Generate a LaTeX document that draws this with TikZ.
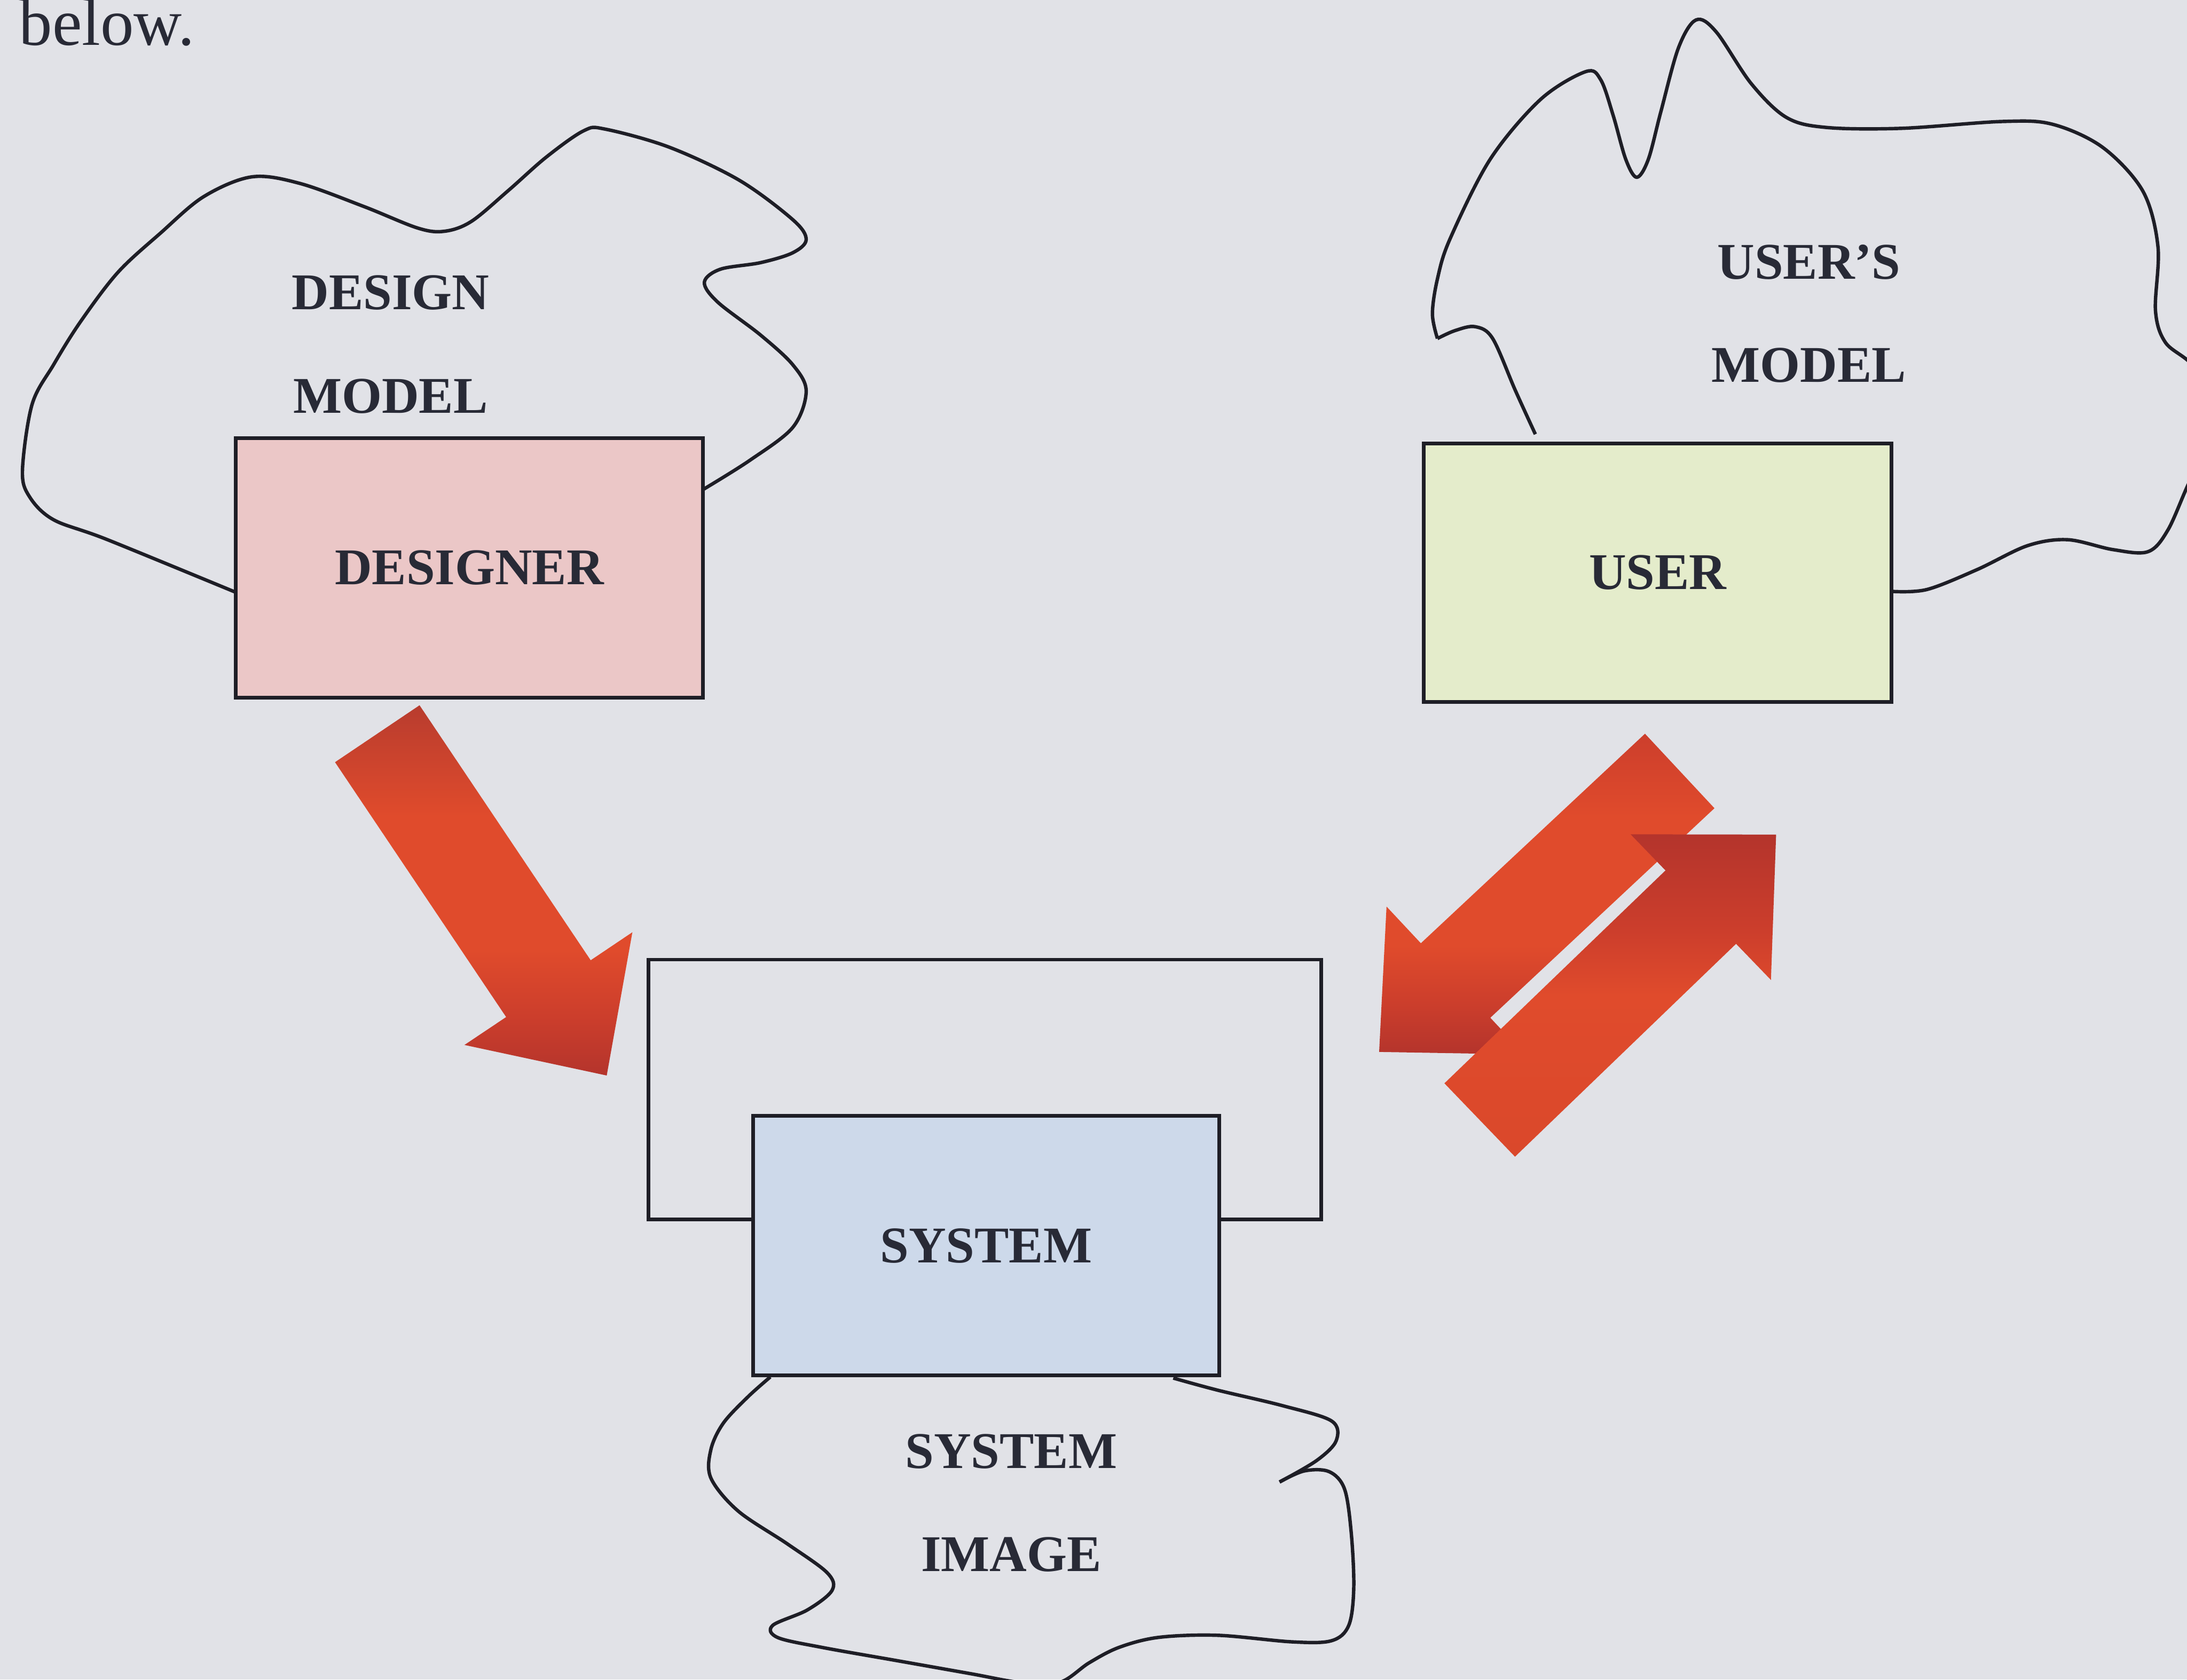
\documentclass[tikz,border=0pt]{standalone}
\usepackage{fontspec}
\setmainfont{Liberation Serif}

\definecolor{pagebg}{RGB}{225,226,231}
\definecolor{inkline}{RGB}{30,30,38}
\definecolor{labelink}{RGB}{40,42,54}
\definecolor{designerfill}{RGB}{235,199,199}
\definecolor{userfill}{RGB}{228,236,203}
\definecolor{systemfill}{RGB}{205,217,234}
\definecolor{arrowbright}{RGB}{224,75,44}
\definecolor{arrowsoft}{RGB}{218,72,43}
\definecolor{arrowwarm}{RGB}{204,62,44}
\definecolor{arrowtail}{RGB}{184,60,46}
\definecolor{arrowdeep}{RGB}{180,52,44}

% vertical colour ramps for the three block arrows (bottom = 25bp, top = 75bp)
\pgfdeclareverticalshading{designershade}{100bp}{%
  color(0bp)=(arrowdeep); color(25bp)=(arrowdeep); color(33bp)=(arrowwarm);
  color(42bp)=(arrowbright); color(60bp)=(arrowbright); color(75bp)=(arrowtail);
  color(100bp)=(arrowtail)}
\pgfdeclareverticalshading{downshade}{100bp}{%
  color(0bp)=(arrowdeep); color(25bp)=(arrowdeep); color(33bp)=(arrowwarm);
  color(42bp)=(arrowbright); color(62bp)=(arrowbright); color(75bp)=(arrowwarm);
  color(100bp)=(arrowwarm)}
\pgfdeclareverticalshading{upshade}{100bp}{%
  color(0bp)=(arrowsoft); color(25bp)=(arrowsoft); color(50bp)=(arrowbright);
  color(60bp)=(arrowwarm); color(75bp)=(arrowdeep); color(100bp)=(arrowdeep)}

\newcommand\labelfont{\fontsize{10.5}{12}\selectfont\bfseries}

\tikzset{
  box/.style={draw=inkline, line width=0.75pt, minimum width=3.35cm,
    minimum height=1.86cm, inner sep=0pt, text=labelink, font=\labelfont},
  frame/.style={draw=inkline, line width=0.75pt, minimum width=4.82cm,
    minimum height=1.86cm, inner sep=0pt},
  cloudline/.style={draw=inkline, line width=0.7pt, line join=round},
  modeltext/.style={anchor=base, inner sep=0pt, text=labelink, font=\labelfont},
  blockarrow/.style={draw=none},
}

\begin{document}
\begin{tikzpicture}[x=0.01cm, y=-0.01cm]
  % page
  \useasboundingbox (0,0) rectangle (1568,1204);
  \fill[pagebg] (0,0) rectangle (1568,1204);
  \clip (0,0) rectangle (1568,1204);

  % running text above the figure
  \node[anchor=base west, inner sep=0pt, text=labelink,
        font=\fontsize{13.6}{16}\selectfont] (below) at (13,32.4) {below.};

  % design model outline
  \draw[cloudline] plot[smooth, tension=0.55] coordinates {
    (169,424.6) (76.8,386.8) (38.4,372.6) (21.1,356) (16.1,337.1) (23,289.9)
    (38.4,261.5) (57.6,230.8) (84.5,195.3) (115.2,167) (146,141) (180.5,126.8)
    (215,131.5) (261,148.1) (299.5,163.5) (318.7,165.8) (338,158.7) (364.8,136.3)
    (391.7,112.6) (418.6,93.7) (434,92.6) (480,105.6) (530,129.2) (568.4,157.5)
    (578,171.7) (568.4,181.2) (545.3,188.3) (516.5,193) (505,202.4) (514.6,216.6)
    (545.3,240.2) (568.4,261.5) (578,280.4) (568.4,306.4) (537.6,330) (504,351)};

  % user's model outline, in two strokes that meet at the sharp corner
  \draw[cloudline] plot[smooth, tension=0.55] coordinates {
    (1100.8,311.3) (1086.4,279.8) (1070.2,242.7) (1057.6,234.2) (1043.2,237)
    (1030.6,242.7)};
  \draw[cloudline] plot[smooth, tension=0.55] coordinates {
    (1030.6,242.7) (1027,225) (1030.6,199.9) (1039.6,171.3) (1068.4,114.2)
    (1104.4,71.4) (1136.8,51.4) (1147.6,57.1) (1156.6,82.8) (1165.6,114.2)
    (1173.5,127.1) (1181.8,114.2) (1190.8,80) (1203.4,34.3) (1216,14.3)
    (1230.4,22.8) (1255.6,60) (1280.8,84.2) (1309.6,91.4) (1363.6,92)
    (1435.6,87.1) (1471.6,89.1) (1507.6,105.7) (1536.4,137.1) (1547.2,177)
    (1545.4,222.7) (1552.6,245.6) (1572,262) (1586,290) (1584,322) (1570,345)
    (1554.4,379.8) (1540,395.5) (1514.8,394) (1482.4,386.9) (1453.6,391.2)
    (1417.6,408.3) (1381.6,422.6) (1357,424)};

  % system image outline, in two strokes that meet at the notch
  \draw[cloudline] plot[smooth, tension=0.55] coordinates {
    (552.3,987.1) (536.3,1001.3) (518.6,1020.2) (509.7,1039.1) (509.7,1059.6)
    (529.2,1083.2) (564.7,1106.9) (593,1127.4) (596.6,1140) (578.9,1154.1)
    (554,1165.2) (557.6,1173.9) (589.5,1181) (642.7,1190.4) (695.8,1199.8)
    (731.3,1206.1) (759.6,1206.1) (780.9,1192) (802.2,1181) (830.6,1173.8)
    (873.1,1172.3) (926.3,1177) (954.6,1176.2) (967,1165.2) (970.6,1138.4)
    (968.8,1099) (964,1067.5) (953,1055) (935,1054.5) (917.4,1062.4)};
  \draw[cloudline] plot[smooth, tension=0.55] coordinates {
    (917.4,1062.4) (944,1047) (958,1032.8) (954.6,1018.6)
    (919.2,1007.6) (873.1,996.6) (841.2,987.9)};

  % boxes
  \node[box, fill=designerfill] (designer) at (336.5,407) {DESIGNER};
  \node[box, fill=userfill, minimum height=1.85cm] (user) at (1188.5,410.5) {USER};
  \node[frame] (sysframe) at (706,781) {};
  \node[box, fill=systemfill, minimum width=3.34cm] (system) at (707,893) {SYSTEM};

  % model labels
  \node[modeltext] (designlbl) at (280,222) {DESIGN};
  \node[modeltext] (designmodel) at (280,296) {MODEL};
  \node[modeltext] (userslbl) at (1297,200) {USER’S};
  \node[modeltext] (usersmodel) at (1297,274) {MODEL};
  \node[modeltext] (imagesys) at (725,1052.5) {SYSTEM};
  \node[modeltext] (imagelbl) at (725,1126.6) {IMAGE};

  % designer -> system
  \shade[blockarrow, shading=designershade]
    (300.8,505.6) -- (423.5,688.4) -- (453.4,668.3) -- (435.0,771.0)
    -- (333.0,749.1) -- (362.9,729.1) -- (240.2,546.4) -- cycle;

  % user -> system
  \shade[blockarrow, shading=downshade]
    (1229.2,579.4) -- (1068.5,729.6) -- (1093.1,755.9) -- (988.8,754.1)
    -- (994.1,649.9) -- (1018.7,676.2) -- (1179.4,526.0) -- cycle;

  % system -> user
  \shade[blockarrow, shading=upshade]
    (1035.6,776.6) -- (1194.1,624.0) -- (1169.1,598.1) -- (1273.4,598.3)
    -- (1269.7,702.5) -- (1244.7,676.6) -- (1086.2,829.2) -- cycle;
\end{tikzpicture}
\end{document}
